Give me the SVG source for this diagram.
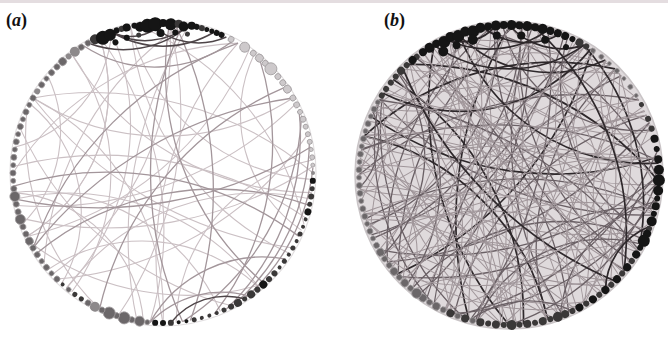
<svg xmlns="http://www.w3.org/2000/svg" width="668" height="337" viewBox="0 0 668 337">
<style>
.e1{fill:none;stroke:#cbc0c4;stroke-width:1.1}
.e2{fill:none;stroke:#a3969b;stroke-width:1.3}
.e3{fill:none;stroke:#4e4548;stroke-width:1.5}
.f1{fill:none;stroke:#a0969a;stroke-width:1}
.f2{fill:none;stroke:#6a6065;stroke-width:1.3}
.f3{fill:none;stroke:#2e282b;stroke-width:1.7}
.k{fill:#151515}
.d{fill:#3a3838}
.m{fill:#6b6769;stroke:#a09c9e;stroke-width:.8}
.g{fill:#8d898b}
.l{fill:#cdc9cb;stroke:#a09c9e;stroke-width:.8}
.lab{font-family:"Liberation Serif",serif;font-weight:bold;font-size:18px;fill:#111}
.it{font-style:italic}
</style>
<defs>
<path id="i20" d="M147.7,-26A45,45 0 0 0 147.7,26"/>
<path id="i30" d="M144.9,-38.8A70,70 0 0 0 144.9,38.8"/>
<path id="i40" d="M141,-51.3A100,100 0 0 0 141,51.3"/>
<path id="i60" d="M129.9,-75A130,130 0 0 0 129.9,75"/>
<path id="i75" d="M119,-91.3A140,140 0 0 0 119,91.3"/>
<path id="i90" d="M106.1,-106.1A170,170 0 0 0 106.1,106.1"/>
<path id="i105" d="M91.3,-119A200,200 0 0 0 91.3,119"/>
<path id="i120" d="M75,-129.9A240,240 0 0 0 75,129.9"/>
<path id="i135" d="M57.4,-138.6A280,280 0 0 0 57.4,138.6"/>
<path id="i150" d="M38.8,-144.9A320,320 0 0 0 38.8,144.9"/>
<path id="i165" d="M19.6,-148.7A360,360 0 0 0 19.6,148.7"/>
<path id="i180" d="M0,-150A400,400 0 0 0 0,150"/>
<path id="o60" d="M129.9,-75A200,200 0 0 1 129.9,75"/>
<path id="o75" d="M119,-91.3A220,220 0 0 1 119,91.3"/>
<path id="o90" d="M106.1,-106.1A240,240 0 0 1 106.1,106.1"/>
<path id="o105" d="M91.3,-119A260,260 0 0 1 91.3,119"/>
<path id="o120" d="M75,-129.9A280,280 0 0 1 75,129.9"/>
<path id="o135" d="M57.4,-138.6A320,320 0 0 1 57.4,138.6"/>
<path id="o150" d="M38.8,-144.9A340,340 0 0 1 38.8,144.9"/>
<path id="o165" d="M19.6,-148.7A380,380 0 0 1 19.6,148.7"/>
<path id="o180" d="M0,-150A400,400 0 0 1 0,150"/>
</defs>
<rect width="668" height="337" fill="#ffffff"/>
<rect width="668" height="3" fill="#e4dde0"/>
<text class="lab" x="6" y="26">(<tspan class="it">a</tspan>)</text>
<text class="lab" x="384" y="26">(<tspan class="it">b</tspan>)</text>

<!-- network (a) -->
<g id="net-a" transform="translate(163,173)">
<circle r="153" fill="none" stroke="#e2dfe0" stroke-width="1.2"/>
<g id="edges-a">
<use href="#i150" class="e1" transform="rotate(170)"/>
<use href="#i120" class="e1" transform="rotate(150)"/>
<use href="#o135" class="e1" transform="rotate(-150)"/>
<use href="#i105" class="e1" transform="rotate(120)"/>
<use href="#i90" class="e1" transform="rotate(40)"/>
<use href="#i180" class="e1" transform="rotate(-60)"/>
<use href="#i150" class="e1" transform="rotate(-130)"/>
<use href="#i120" class="e1" transform="rotate(-170)"/>
<use href="#i165" class="e1" transform="rotate(100)"/>
<use href="#i90" class="e1" transform="rotate(-160)"/>
<use href="#i75" class="e1" transform="rotate(135)"/>
<use href="#i60" class="e1" transform="rotate(-140)"/>
<use href="#o120" class="e1" transform="rotate(-40)"/>
<use href="#i105" class="e1" transform="rotate(-50)"/>
<use href="#o90" class="e1" transform="rotate(160)"/>
<use href="#i165" class="e1" transform="rotate(-110)"/>
<use href="#i135" class="e1" transform="rotate(205)"/>
<use href="#i120" class="e1" transform="rotate(70)"/>
<use href="#o105" class="e1" transform="rotate(100)"/>
<use href="#i90" class="e1" transform="rotate(95)"/>
<use href="#i75" class="e1" transform="rotate(-15)"/>
<use href="#i150" class="e1" transform="rotate(15)"/>
<use href="#i165" class="e1" transform="rotate(190)"/>
<use href="#o150" class="e1" transform="rotate(60)"/>
<use href="#i120" class="e1" transform="rotate(-90)"/>
<use href="#i180" class="e1" transform="rotate(10)"/>
<use href="#o135" class="e1" transform="rotate(130)"/>
<use href="#i105" class="e1" transform="rotate(180)"/>
<use href="#i135" class="e1" transform="rotate(-60)"/>
<use href="#i90" class="e1" transform="rotate(200)"/>
<use href="#o120" class="e1" transform="rotate(-120)"/>
<use href="#o165" class="e1" transform="rotate(80)"/>
<use href="#i75" class="e1" transform="rotate(170)"/>
<use href="#i60" class="e1" transform="rotate(190)"/>
<use href="#i135" class="e1" transform="rotate(-35)"/>
<use href="#o150" class="e1" transform="rotate(-75)"/>
<use href="#i120" class="e1" transform="rotate(110)"/>
<use href="#i165" class="e2" transform="rotate(0)"/>
<use href="#o165" class="e2" transform="rotate(-3)"/>
<use href="#i135" class="e2" transform="rotate(-20)"/>
<use href="#o120" class="e2" transform="rotate(10)"/>
<use href="#o105" class="e2" transform="rotate(30)"/>
<use href="#o75" class="e2" transform="rotate(25)"/>
<use href="#o60" class="e2" transform="rotate(28)"/>
<use href="#i180" class="e2" transform="rotate(60)"/>
<use href="#i135" class="e2" transform="rotate(80)"/>
<use href="#o150" class="e2" transform="rotate(-135)"/>
<use href="#i150" class="e2" transform="rotate(40)"/>
<use href="#i180" class="e2" transform="rotate(-100)"/>
<use href="#i150" class="e2" transform="rotate(100)"/>
<use href="#i60" class="e2" transform="rotate(65)"/>
<use href="#i40" class="e2" transform="rotate(75)"/>
<use href="#i60" class="e2" transform="rotate(-92)"/>
<use href="#o90" class="e2" transform="rotate(20)"/>
<use href="#i30" class="e3" transform="rotate(72)"/>
<use href="#i20" class="e3" transform="rotate(-100)"/>
<use href="#i30" class="e3" transform="rotate(-95)"/>
<use href="#i40" class="e3" transform="rotate(-90)"/>
<use href="#i30" class="e3" transform="rotate(-80)"/>
<use href="#i40" class="e3" transform="rotate(-100)"/>
</g>
<g id="nodes-a">
<circle class="d" r="5" transform="rotate(-117) translate(150)"/>
<circle class="k" r="7" transform="rotate(-114) translate(148)"/>
<circle class="k" r="6" transform="rotate(-111) translate(148)"/>
<circle class="k" r="3" transform="rotate(-108) translate(150)"/>
<circle class="d" r="3" transform="rotate(-106) translate(150)"/>
<circle class="k" r="4" transform="rotate(-104) translate(150)"/>
<circle class="k" r="3" transform="rotate(-101) translate(150)"/>
<circle class="k" r="5" transform="rotate(-99) translate(148)"/>
<circle class="k" r="7" transform="rotate(-96) translate(148)"/>
<circle class="k" r="7" transform="rotate(-93) translate(149)"/>
<circle class="k" r="4" transform="rotate(-90) translate(150)"/>
<circle class="k" r="6" transform="rotate(-87) translate(149)"/>
<circle class="d" r="4" transform="rotate(-84) translate(150)"/>
<circle class="k" r="5" transform="rotate(-82) translate(148)"/>
<circle class="k" r="4" transform="rotate(-79) translate(150)"/>
<circle class="k" r="3" transform="rotate(-77) translate(150)"/>
<circle class="d" r="3" transform="rotate(-75) translate(150)"/>
<circle class="k" r="2.5" transform="rotate(-73) translate(150)"/>
<circle class="k" r="2.5" transform="rotate(-71) translate(150)"/>
<circle class="k" r="3" transform="rotate(-69) translate(150)"/>
<circle class="k" r="3" transform="rotate(-67) translate(150)"/>
<circle class="k" r="3" transform="rotate(-105) translate(140)"/>
<circle class="d" r="2.5" transform="rotate(-100) translate(140)"/>
<circle class="k" r="4" transform="rotate(-91) translate(140)"/>
<circle class="k" r="3" transform="rotate(-85) translate(141)"/>
<circle class="d" r="2.5" transform="rotate(-80) translate(141)"/>
<circle class="k" r="3" transform="rotate(-110) translate(139)"/>
<circle class="l" r="3" transform="rotate(-63) translate(150)"/>
<circle class="l" r="5" transform="rotate(-57) translate(150)"/>
<circle class="l" r="3" transform="rotate(-53) translate(150)"/>
<circle class="l" r="4" transform="rotate(-50) translate(150)"/>
<circle class="l" r="3" transform="rotate(-47) translate(150)"/>
<circle class="l" r="6" transform="rotate(-44) translate(150)"/>
<circle class="l" r="3" transform="rotate(-40) translate(150)"/>
<circle class="l" r="3" transform="rotate(-37) translate(150)"/>
<circle class="l" r="4" transform="rotate(-34) translate(150)"/>
<circle class="l" r="3" transform="rotate(-30) translate(150)"/>
<circle class="l" r="3" transform="rotate(-27) translate(150)"/>
<circle class="l" r="2.5" transform="rotate(-24) translate(150)"/>
<circle class="l" r="3" transform="rotate(-21) translate(150)"/>
<circle class="l" r="2.5" transform="rotate(-18) translate(150)"/>
<circle class="l" r="2.5" transform="rotate(-15) translate(150)"/>
<circle class="l" r="2.5" transform="rotate(-12) translate(150)"/>
<circle class="l" r="2" transform="rotate(-9) translate(150)"/>
<circle class="l" r="2.5" transform="rotate(-6) translate(150)"/>
<circle class="l" r="2" transform="rotate(-3) translate(150)"/>
<circle class="g" r="2" transform="rotate(0) translate(150)"/>
<circle class="k" r="3" transform="rotate(3) translate(150)"/>
<circle class="d" r="2.5" transform="rotate(6) translate(150)"/>
<circle class="d" r="3" transform="rotate(9) translate(150)"/>
<circle class="d" r="2.5" transform="rotate(12) translate(150)"/>
<circle class="k" r="3.5" transform="rotate(15) translate(150)"/>
<circle class="d" r="2" transform="rotate(18) translate(150)"/>
<circle class="d" r="2" transform="rotate(21) translate(150)"/>
<circle class="d" r="2.5" transform="rotate(24) translate(150)"/>
<circle class="d" r="2" transform="rotate(27) translate(150)"/>
<circle class="d" r="2.5" transform="rotate(30) translate(150)"/>
<circle class="d" r="2" transform="rotate(33) translate(150)"/>
<circle class="d" r="2.5" transform="rotate(36) translate(150)"/>
<circle class="d" r="2" transform="rotate(39) translate(150)"/>
<circle class="d" r="3" transform="rotate(42) translate(150)"/>
<circle class="d" r="3" transform="rotate(45) translate(150)"/>
<circle class="k" r="4" transform="rotate(48) translate(150)"/>
<circle class="d" r="3" transform="rotate(51) translate(150)"/>
<circle class="d" r="4" transform="rotate(54) translate(150)"/>
<circle class="d" r="2.5" transform="rotate(57) translate(150)"/>
<circle class="d" r="4" transform="rotate(60) translate(150)"/>
<circle class="d" r="3" transform="rotate(63) translate(150)"/>
<circle class="d" r="2.5" transform="rotate(66) translate(150)"/>
<circle class="d" r="2" transform="rotate(69) translate(150)"/>
<circle class="d" r="2" transform="rotate(72) translate(150)"/>
<circle class="d" r="2" transform="rotate(75) translate(150)"/>
<circle class="d" r="2.5" transform="rotate(78) translate(150)"/>
<circle class="k" r="2" transform="rotate(81) translate(150)"/>
<circle class="k" r="2" transform="rotate(84) translate(150)"/>
<circle class="d" r="3" transform="rotate(87) translate(150)"/>
<circle class="k" r="3" transform="rotate(90) translate(150)"/>
<circle class="k" r="3" transform="rotate(93) translate(150)"/>
<circle class="m" r="2.5" transform="rotate(96) translate(150)"/>
<circle class="m" r="5" transform="rotate(99) translate(150)"/>
<circle class="m" r="3" transform="rotate(102) translate(150)"/>
<circle class="m" r="6" transform="rotate(105) translate(150)"/>
<circle class="m" r="3" transform="rotate(108) translate(150)"/>
<circle class="m" r="6" transform="rotate(111) translate(150)"/>
<circle class="m" r="3" transform="rotate(114) translate(150)"/>
<circle class="g" r="5" transform="rotate(117) translate(150)"/>
<circle class="m" r="3" transform="rotate(120) translate(150)"/>
<circle class="d" r="2.5" transform="rotate(123) translate(150)"/>
<circle class="d" r="2.5" transform="rotate(126) translate(150)"/>
<circle class="m" r="2.5" transform="rotate(129) translate(150)"/>
<circle class="d" r="2" transform="rotate(132) translate(150)"/>
<circle class="m" r="3" transform="rotate(135) translate(150)"/>
<circle class="m" r="2.5" transform="rotate(138) translate(150)"/>
<circle class="m" r="3" transform="rotate(141) translate(150)"/>
<circle class="m" r="2.5" transform="rotate(144) translate(150)"/>
<circle class="m" r="3" transform="rotate(147) translate(150)"/>
<circle class="m" r="3" transform="rotate(150) translate(150)"/>
<circle class="m" r="4" transform="rotate(153) translate(150)"/>
<circle class="m" r="3" transform="rotate(156) translate(150)"/>
<circle class="m" r="3" transform="rotate(159) translate(150)"/>
<circle class="m" r="5" transform="rotate(162) translate(150)"/>
<circle class="m" r="3" transform="rotate(165) translate(150)"/>
<circle class="m" r="3" transform="rotate(168) translate(150)"/>
<circle class="m" r="5" transform="rotate(171) translate(150)"/>
<circle class="m" r="3" transform="rotate(174) translate(150)"/>
<circle class="m" r="2.5" transform="rotate(177) translate(150)"/>
<circle class="m" r="3" transform="rotate(180) translate(150)"/>
<circle class="m" r="2.5" transform="rotate(183) translate(150)"/>
<circle class="m" r="3" transform="rotate(186) translate(150)"/>
<circle class="m" r="2.5" transform="rotate(189) translate(150)"/>
<circle class="m" r="3" transform="rotate(192) translate(150)"/>
<circle class="m" r="2.5" transform="rotate(195) translate(150)"/>
<circle class="m" r="3" transform="rotate(198) translate(150)"/>
<circle class="m" r="2.5" transform="rotate(201) translate(150)"/>
<circle class="m" r="3" transform="rotate(204) translate(150)"/>
<circle class="m" r="2.5" transform="rotate(207) translate(150)"/>
<circle class="m" r="3" transform="rotate(210) translate(150)"/>
<circle class="g" r="3" transform="rotate(213) translate(150)"/>
<circle class="m" r="3" transform="rotate(216) translate(150)"/>
<circle class="m" r="2.5" transform="rotate(219) translate(150)"/>
<circle class="m" r="3" transform="rotate(222) translate(150)"/>
<circle class="m" r="3" transform="rotate(225) translate(150)"/>
<circle class="m" r="4" transform="rotate(228) translate(150)"/>
<circle class="g" r="3" transform="rotate(231) translate(150)"/>
<circle class="g" r="5" transform="rotate(234) translate(150)"/>
<circle class="m" r="3" transform="rotate(237) translate(150)"/>
<circle class="m" r="3" transform="rotate(240) translate(150)"/>
</g>
</g>

<!-- network (b) -->
<g id="net-b" transform="translate(509,175)">
<circle r="154" fill="#dfdadc" stroke="#c9c4c6" stroke-width="1.5"/>
<g id="edges-b">
<use href="#i165" class="f1" transform="rotate(5)"/>
<use href="#i165" class="f2" transform="rotate(41)"/>
<use href="#i165" class="f1" transform="rotate(77)"/>
<use href="#i165" class="f1" transform="rotate(113)"/>
<use href="#i165" class="f2" transform="rotate(149)"/>
<use href="#i165" class="f1" transform="rotate(185)"/>
<use href="#i165" class="f3" transform="rotate(221)"/>
<use href="#i165" class="f1" transform="rotate(257)"/>
<use href="#i165" class="f2" transform="rotate(293)"/>
<use href="#i165" class="f1" transform="rotate(329)"/>
<use href="#o165" class="f1" transform="rotate(20)"/>
<use href="#o165" class="f2" transform="rotate(62)"/>
<use href="#o165" class="f1" transform="rotate(104)"/>
<use href="#o165" class="f1" transform="rotate(146)"/>
<use href="#o165" class="f3" transform="rotate(188)"/>
<use href="#o165" class="f1" transform="rotate(230)"/>
<use href="#o165" class="f2" transform="rotate(272)"/>
<use href="#o165" class="f1" transform="rotate(314)"/>
<use href="#i150" class="f1" transform="rotate(12)"/>
<use href="#i150" class="f1" transform="rotate(50)"/>
<use href="#i150" class="f2" transform="rotate(88)"/>
<use href="#i150" class="f1" transform="rotate(126)"/>
<use href="#i150" class="f1" transform="rotate(164)"/>
<use href="#i150" class="f2" transform="rotate(202)"/>
<use href="#i150" class="f1" transform="rotate(240)"/>
<use href="#i150" class="f3" transform="rotate(278)"/>
<use href="#i150" class="f1" transform="rotate(316)"/>
<use href="#i150" class="f2" transform="rotate(354)"/>
<use href="#o150" class="f1" transform="rotate(30)"/>
<use href="#o150" class="f2" transform="rotate(75)"/>
<use href="#o150" class="f1" transform="rotate(120)"/>
<use href="#o150" class="f3" transform="rotate(165)"/>
<use href="#o150" class="f1" transform="rotate(210)"/>
<use href="#o150" class="f2" transform="rotate(255)"/>
<use href="#o150" class="f1" transform="rotate(300)"/>
<use href="#o150" class="f1" transform="rotate(345)"/>
<use href="#i135" class="f1" transform="rotate(8)"/>
<use href="#i135" class="f2" transform="rotate(44)"/>
<use href="#i135" class="f1" transform="rotate(80)"/>
<use href="#i135" class="f1" transform="rotate(116)"/>
<use href="#i135" class="f3" transform="rotate(152)"/>
<use href="#i135" class="f1" transform="rotate(188)"/>
<use href="#i135" class="f2" transform="rotate(224)"/>
<use href="#i135" class="f1" transform="rotate(260)"/>
<use href="#i135" class="f1" transform="rotate(296)"/>
<use href="#i135" class="f2" transform="rotate(332)"/>
<use href="#o135" class="f1" transform="rotate(25)"/>
<use href="#o135" class="f2" transform="rotate(70)"/>
<use href="#o135" class="f1" transform="rotate(115)"/>
<use href="#o135" class="f1" transform="rotate(160)"/>
<use href="#o135" class="f2" transform="rotate(205)"/>
<use href="#o135" class="f1" transform="rotate(250)"/>
<use href="#o135" class="f3" transform="rotate(295)"/>
<use href="#o135" class="f1" transform="rotate(340)"/>
<use href="#i120" class="f2" transform="rotate(15)"/>
<use href="#i120" class="f1" transform="rotate(55)"/>
<use href="#i120" class="f1" transform="rotate(95)"/>
<use href="#i120" class="f3" transform="rotate(135)"/>
<use href="#i120" class="f1" transform="rotate(175)"/>
<use href="#i120" class="f2" transform="rotate(215)"/>
<use href="#i120" class="f1" transform="rotate(255)"/>
<use href="#i120" class="f1" transform="rotate(295)"/>
<use href="#i120" class="f2" transform="rotate(335)"/>
<use href="#o120" class="f1" transform="rotate(0)"/>
<use href="#o120" class="f2" transform="rotate(51)"/>
<use href="#o120" class="f1" transform="rotate(102)"/>
<use href="#o120" class="f1" transform="rotate(153)"/>
<use href="#o120" class="f2" transform="rotate(204)"/>
<use href="#o120" class="f3" transform="rotate(255)"/>
<use href="#o120" class="f1" transform="rotate(306)"/>
<use href="#i105" class="f1" transform="rotate(33)"/>
<use href="#i105" class="f2" transform="rotate(78)"/>
<use href="#i105" class="f1" transform="rotate(123)"/>
<use href="#i105" class="f1" transform="rotate(168)"/>
<use href="#i105" class="f2" transform="rotate(213)"/>
<use href="#i105" class="f1" transform="rotate(258)"/>
<use href="#i105" class="f3" transform="rotate(303)"/>
<use href="#i105" class="f1" transform="rotate(348)"/>
<use href="#o105" class="f1" transform="rotate(10)"/>
<use href="#o105" class="f2" transform="rotate(60)"/>
<use href="#o105" class="f1" transform="rotate(110)"/>
<use href="#o105" class="f2" transform="rotate(160)"/>
<use href="#o105" class="f1" transform="rotate(210)"/>
<use href="#o105" class="f1" transform="rotate(260)"/>
<use href="#o105" class="f2" transform="rotate(310)"/>
<use href="#i90" class="f1" transform="rotate(18)"/>
<use href="#i90" class="f2" transform="rotate(58)"/>
<use href="#i90" class="f1" transform="rotate(98)"/>
<use href="#i90" class="f1" transform="rotate(138)"/>
<use href="#i90" class="f2" transform="rotate(178)"/>
<use href="#i90" class="f1" transform="rotate(218)"/>
<use href="#i90" class="f3" transform="rotate(258)"/>
<use href="#i90" class="f1" transform="rotate(298)"/>
<use href="#i90" class="f2" transform="rotate(338)"/>
<use href="#o90" class="f2" transform="rotate(45)"/>
<use href="#o90" class="f1" transform="rotate(105)"/>
<use href="#o90" class="f2" transform="rotate(165)"/>
<use href="#o90" class="f1" transform="rotate(225)"/>
<use href="#o90" class="f1" transform="rotate(285)"/>
<use href="#o90" class="f3" transform="rotate(345)"/>
<use href="#i75" class="f1" transform="rotate(5)"/>
<use href="#i75" class="f2" transform="rotate(65)"/>
<use href="#i75" class="f1" transform="rotate(125)"/>
<use href="#i75" class="f2" transform="rotate(185)"/>
<use href="#i75" class="f1" transform="rotate(245)"/>
<use href="#i75" class="f2" transform="rotate(305)"/>
<use href="#i60" class="f2" transform="rotate(40)"/>
<use href="#i60" class="f1" transform="rotate(100)"/>
<use href="#i60" class="f1" transform="rotate(160)"/>
<use href="#i60" class="f2" transform="rotate(220)"/>
<use href="#i60" class="f3" transform="rotate(280)"/>
<use href="#i60" class="f1" transform="rotate(340)"/>
<use href="#i180" class="f1" transform="rotate(0)"/>
<use href="#i180" class="f2" transform="rotate(30)"/>
<use href="#i180" class="f1" transform="rotate(60)"/>
<use href="#i180" class="f1" transform="rotate(90)"/>
<use href="#i180" class="f2" transform="rotate(120)"/>
<use href="#i180" class="f1" transform="rotate(150)"/>
<use href="#o180" class="f2" transform="rotate(15)"/>
<use href="#o180" class="f1" transform="rotate(75)"/>
<use href="#o180" class="f3" transform="rotate(135)"/>
<use href="#i165" class="f1" transform="rotate(23)"/>
<use href="#i150" class="f1" transform="rotate(69)"/>
<use href="#i135" class="f1" transform="rotate(98)"/>
<use href="#i120" class="f1" transform="rotate(75)"/>
<use href="#o150" class="f1" transform="rotate(187)"/>
<use href="#i105" class="f1" transform="rotate(190)"/>
<use href="#o135" class="f1" transform="rotate(140)"/>
<use href="#i90" class="f1" transform="rotate(160)"/>
<use href="#i165" class="f1" transform="rotate(59)"/>
<use href="#i165" class="f1" transform="rotate(131)"/>
<use href="#i150" class="f1" transform="rotate(-36)"/>
<use href="#i150" class="f1" transform="rotate(143)"/>
<use href="#o150" class="f1" transform="rotate(-5)"/>
<use href="#o150" class="f1" transform="rotate(100)"/>
<use href="#i135" class="f1" transform="rotate(-46)"/>
<use href="#i135" class="f1" transform="rotate(170)"/>
<use href="#o135" class="f1" transform="rotate(-88)"/>
<use href="#o135" class="f1" transform="rotate(48)"/>
<use href="#i120" class="f1" transform="rotate(-67)"/>
<use href="#i120" class="f1" transform="rotate(195)"/>
<use href="#o120" class="f1" transform="rotate(-130)"/>
<use href="#o120" class="f1" transform="rotate(78)"/>
<use href="#i105" class="f1" transform="rotate(-78)"/>
<use href="#i105" class="f1" transform="rotate(145)"/>
<use href="#i90" class="f1" transform="rotate(-100)"/>
<use href="#i90" class="f1" transform="rotate(120)"/>
<use href="#i180" class="f1" transform="rotate(-15)"/>
<use href="#i180" class="f1" transform="rotate(105)"/>
<use href="#o120" class="f3" transform="rotate(-20)"/>
<use href="#i40" class="f3" transform="rotate(-95)"/>
<use href="#i30" class="f3" transform="rotate(-85)"/>
<use href="#i60" class="f3" transform="rotate(-90)"/>
<use href="#i20" class="f3" transform="rotate(-105)"/>
<use href="#i30" class="f3" transform="rotate(-75)"/>
<use href="#i40" class="f2" transform="rotate(20)"/>
<use href="#i30" class="f3" transform="rotate(35)"/>
<use href="#i40" class="f2" transform="rotate(85)"/>
<use href="#i30" class="f2" transform="rotate(190)"/>
</g>
<g id="nodes-b">
<circle class="d" r="3" transform="rotate(-128) translate(150)"/>
<circle class="k" r="4" transform="rotate(-125) translate(150)"/>
<circle class="k" r="5" transform="rotate(-122) translate(150)"/>
<circle class="k" r="4" transform="rotate(-119) translate(150)"/>
<circle class="k" r="6" transform="rotate(-116) translate(148)"/>
<circle class="k" r="5" transform="rotate(-113) translate(150)"/>
<circle class="k" r="6" transform="rotate(-110) translate(148)"/>
<circle class="k" r="5" transform="rotate(-107) translate(150)"/>
<circle class="k" r="6" transform="rotate(-104) translate(148)"/>
<circle class="k" r="5" transform="rotate(-101) translate(150)"/>
<circle class="k" r="4" transform="rotate(-98) translate(150)"/>
<circle class="k" r="5" transform="rotate(-95) translate(150)"/>
<circle class="k" r="4" transform="rotate(-92) translate(150)"/>
<circle class="k" r="5" transform="rotate(-89) translate(150)"/>
<circle class="k" r="4" transform="rotate(-86) translate(150)"/>
<circle class="k" r="5" transform="rotate(-83) translate(150)"/>
<circle class="k" r="4" transform="rotate(-80) translate(150)"/>
<circle class="k" r="5" transform="rotate(-77) translate(150)"/>
<circle class="k" r="4" transform="rotate(-74) translate(150)"/>
<circle class="k" r="4" transform="rotate(-71) translate(150)"/>
<circle class="k" r="4" transform="rotate(-68) translate(150)"/>
<circle class="k" r="3" transform="rotate(-65) translate(150)"/>
<circle class="d" r="4" transform="rotate(-62) translate(150)"/>
<circle class="d" r="3" transform="rotate(-59) translate(150)"/>
<circle class="k" r="5" transform="rotate(-118) translate(140)"/>
<circle class="k" r="4" transform="rotate(-112) translate(140)"/>
<circle class="k" r="5" transform="rotate(-105) translate(140)"/>
<circle class="k" r="4" transform="rotate(-95) translate(140)"/>
<circle class="k" r="4" transform="rotate(-85) translate(140)"/>
<circle class="k" r="4" transform="rotate(-75) translate(140)"/>
<circle class="k" r="3" transform="rotate(-66) translate(140)"/>
<circle class="m" r="2.5" transform="rotate(-56) translate(150)"/>
<circle class="m" r="2.5" transform="rotate(-52) translate(150)"/>
<circle class="m" r="2" transform="rotate(-48) translate(150)"/>
<circle class="m" r="2.5" transform="rotate(-44) translate(150)"/>
<circle class="m" r="2" transform="rotate(-40) translate(150)"/>
<circle class="m" r="2.5" transform="rotate(-36) translate(150)"/>
<circle class="m" r="2" transform="rotate(-32) translate(150)"/>
<circle class="d" r="2.5" transform="rotate(-28) translate(150)"/>
<circle class="d" r="3" transform="rotate(-22) translate(150)"/>
<circle class="d" r="3" transform="rotate(-18) translate(150)"/>
<circle class="k" r="4" transform="rotate(-14) translate(150)"/>
<circle class="k" r="3" transform="rotate(-10) translate(150)"/>
<circle class="k" r="4" transform="rotate(-6) translate(150)"/>
<circle class="k" r="5" transform="rotate(-2) translate(150)"/>
<circle class="k" r="6" transform="rotate(2) translate(150)"/>
<circle class="k" r="5" transform="rotate(6) translate(150)"/>
<circle class="k" r="3" transform="rotate(9) translate(150)"/>
<circle class="k" r="4" transform="rotate(12) translate(150)"/>
<circle class="k" r="3" transform="rotate(15) translate(150)"/>
<circle class="k" r="5" transform="rotate(18) translate(150)"/>
<circle class="d" r="3" transform="rotate(21) translate(150)"/>
<circle class="k" r="4" transform="rotate(23) translate(150)"/>
<circle class="k" r="6" transform="rotate(26) translate(150)"/>
<circle class="k" r="3" transform="rotate(29) translate(150)"/>
<circle class="k" r="4" transform="rotate(32) translate(150)"/>
<circle class="d" r="3" transform="rotate(35) translate(150)"/>
<circle class="k" r="4" transform="rotate(38) translate(150)"/>
<circle class="d" r="3" transform="rotate(41) translate(150)"/>
<circle class="k" r="4" transform="rotate(44) translate(150)"/>
<circle class="d" r="3" transform="rotate(47) translate(150)"/>
<circle class="k" r="4" transform="rotate(50) translate(150)"/>
<circle class="d" r="3" transform="rotate(53) translate(150)"/>
<circle class="k" r="4" transform="rotate(56) translate(150)"/>
<circle class="d" r="3" transform="rotate(59) translate(150)"/>
<circle class="k" r="4" transform="rotate(62) translate(150)"/>
<circle class="d" r="3" transform="rotate(65) translate(150)"/>
<circle class="d" r="4" transform="rotate(68) translate(150)"/>
<circle class="d" r="5" transform="rotate(71) translate(150)"/>
<circle class="d" r="3" transform="rotate(74) translate(150)"/>
<circle class="d" r="4" transform="rotate(77) translate(150)"/>
<circle class="d" r="3" transform="rotate(80) translate(150)"/>
<circle class="d" r="4" transform="rotate(83) translate(150)"/>
<circle class="d" r="3" transform="rotate(86) translate(150)"/>
<circle class="d" r="5" transform="rotate(89) translate(150)"/>
<circle class="d" r="3" transform="rotate(92) translate(150)"/>
<circle class="d" r="4" transform="rotate(95) translate(150)"/>
<circle class="d" r="3" transform="rotate(98) translate(150)"/>
<circle class="d" r="4" transform="rotate(101) translate(150)"/>
<circle class="m" r="3" transform="rotate(104) translate(150)"/>
<circle class="d" r="4" transform="rotate(107) translate(150)"/>
<circle class="m" r="3" transform="rotate(110) translate(150)"/>
<circle class="d" r="4" transform="rotate(113) translate(150)"/>
<circle class="m" r="3" transform="rotate(116) translate(150)"/>
<circle class="m" r="4" transform="rotate(119) translate(150)"/>
<circle class="m" r="3" transform="rotate(122) translate(150)"/>
<circle class="m" r="4" transform="rotate(125) translate(150)"/>
<circle class="m" r="5" transform="rotate(128) translate(150)"/>
<circle class="m" r="3" transform="rotate(131) translate(150)"/>
<circle class="m" r="4" transform="rotate(134) translate(150)"/>
<circle class="m" r="3" transform="rotate(137) translate(150)"/>
<circle class="m" r="4" transform="rotate(140) translate(150)"/>
<circle class="m" r="3" transform="rotate(143) translate(150)"/>
<circle class="m" r="3" transform="rotate(146) translate(150)"/>
<circle class="m" r="4" transform="rotate(149) translate(150)"/>
<circle class="m" r="3" transform="rotate(152) translate(150)"/>
<circle class="m" r="2.5" transform="rotate(155) translate(150)"/>
<circle class="m" r="3" transform="rotate(158) translate(150)"/>
<circle class="m" r="2.5" transform="rotate(161) translate(150)"/>
<circle class="m" r="3" transform="rotate(164) translate(150)"/>
<circle class="m" r="3" transform="rotate(167) translate(150)"/>
<circle class="m" r="2.5" transform="rotate(170) translate(150)"/>
<circle class="m" r="3" transform="rotate(173) translate(150)"/>
<circle class="m" r="3" transform="rotate(176) translate(150)"/>
<circle class="m" r="2.5" transform="rotate(179) translate(150)"/>
<circle class="m" r="3" transform="rotate(182) translate(150)"/>
<circle class="m" r="2.5" transform="rotate(185) translate(150)"/>
<circle class="m" r="3" transform="rotate(188) translate(150)"/>
<circle class="m" r="2.5" transform="rotate(191) translate(150)"/>
<circle class="m" r="3" transform="rotate(194) translate(150)"/>
<circle class="m" r="2.5" transform="rotate(197) translate(150)"/>
<circle class="m" r="3" transform="rotate(200) translate(150)"/>
<circle class="m" r="2.5" transform="rotate(203) translate(150)"/>
<circle class="m" r="3" transform="rotate(206) translate(150)"/>
<circle class="m" r="2.5" transform="rotate(209) translate(150)"/>
<circle class="d" r="3" transform="rotate(212) translate(150)"/>
<circle class="d" r="3" transform="rotate(215) translate(150)"/>
<circle class="d" r="3" transform="rotate(218) translate(150)"/>
<circle class="d" r="3" transform="rotate(221) translate(150)"/>
<circle class="d" r="4" transform="rotate(224) translate(150)"/>
<circle class="d" r="3" transform="rotate(227) translate(150)"/>
<circle class="k" r="4" transform="rotate(230) translate(150)"/>
</g>
</g>
</svg>
